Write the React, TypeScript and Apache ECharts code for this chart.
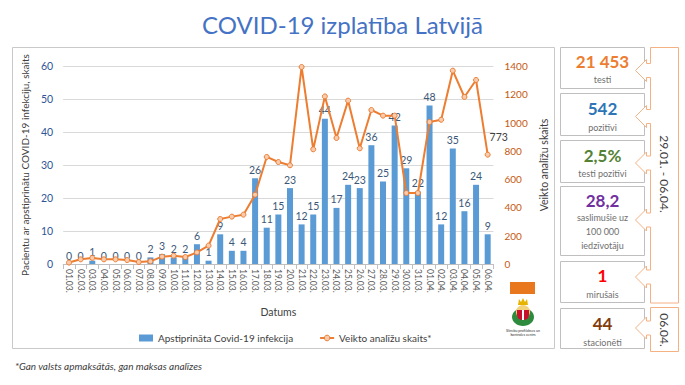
import React, { useEffect, useRef } from 'react';
import * as echarts from 'echarts';

const dates = [
  '01.03.', '02.03.', '03.03.', '04.03.', '05.03.', '06.03.', '07.03.', '08.03.', '09.03.', '10.03.',
  '11.03.', '12.03.', '13.03.', '14.03.', '15.03.', '16.03.', '17.03.', '18.03.', '19.03.', '20.03.',
  '21.03.', '22.03.', '23.03.', '24.03.', '25.03.', '26.03.', '27.03.', '28.03.', '29.03.', '30.03.',
  '31.03.', '01.04.', '02.04.', '03.04.', '04.04.', '05.04.', '06.04.',
];
const confirmed = [0, 0, 1, 0, 0, 0, 0, 2, 3, 2, 2, 6, 1, 9, 4, 4, 26, 11, 15, 23, 12, 15, 44, 17, 24, 23, 36, 25, 42, 29, 22, 48, 12, 35, 16, 24, 9];
const tests = [10, 33, 43, 33, 33, 28, 14, 19, 52, 59, 49, 82, 130, 318, 335, 349, 490, 757, 721, 698, 1393, 811, 1185, 891, 1155, 818, 1089, 1049, 1049, 502, 502, 1004, 1020, 1367, 1181, 1301, 773];
const leftAxisMax = 60;
const leftAxisStep = 10;
const rightAxisMax = 1400;
const rightAxisStep = 200;

const titleText = 'COVID-19 izplatība Latvijā';
const barName = 'Apstiprināta Covid-19 infekcija';
const lineName = 'Veikto analīžu skaits*';
const leftAxisName = 'Pacientu ar apstiprinātu COVID-19 infekciju, skaits';
const rightAxisName = 'Veikto analīžu skaits';
const xAxisName = 'Datums';
const footnote = '*Gan valsts apmaksātās, gan maksas analīzes';

const panelValues = ['21 453', '542', '2,5%', '28,2', '1', '44'];
const panelLabels = [['testi'], ['pozitīvi'], ['testi pozitīvi'], ['saslimušie uz', '100 000', 'iedzīvotāju'], ['mirušais'], ['stacionēti']];
const periodLabel = '29.01. - 06.04.';
const dayLabel = '06.04.';
const logoText = ['Slimību profilakses un', 'kontroles centrs'];

const FONT = 'Lato, "Noto Sans", sans-serif';
const panelColors = ['#ED7D31', '#2E75B6', '#548235', '#7030A0', '#FF0000', '#843C0C'];

function buildGraphics() {
  const g: any[] = [];
  g.push({ type: 'rect', shape: { x: 12.5, y: 47.5, width: 542, height: 301 }, style: { fill: 'none', stroke: '#C9C9C9', lineWidth: 1 }, z: -10 });
  g.push({ type: 'text', x: 342.5, y: 24, style: { text: titleText, fill: '#4472C4', font: `24px ${FONT}`, textAlign: 'center', textVerticalAlign: 'middle' } });
  g.push({ type: 'text', x: 15, y: 366, style: { text: footnote, fill: '#404040', font: `italic 10px ${FONT}`, textAlign: 'left', textVerticalAlign: 'middle' } });

  const tops = [47, 93, 140, 186, 261, 308];
  const bottoms = [88, 135, 182, 255, 302, 348];
  const valueY = [61, 108, 155, 200, 275, 323];
  const labelY = [[79], [127], [173], [217, 231, 245], [294], [342]];
  for (let i = 0; i < tops.length; i++) {
    g.push({ type: 'rect', shape: { x: 560.5, y: tops[i] + 0.5, width: 84, height: bottoms[i] - tops[i] }, style: { fill: '#fff', stroke: '#BFBFBF', lineWidth: 1 } });
    g.push({ type: 'text', x: 602.5, y: valueY[i], style: { text: panelValues[i], fill: panelColors[i], font: `bold 17px ${FONT}`, textAlign: 'center', textVerticalAlign: 'middle' } });
    panelLabels[i].forEach((t, j) => {
      g.push({ type: 'text', x: 602.5, y: labelY[i][j], style: { text: t, fill: '#6F6F6F', font: `9px ${FONT}`, textAlign: 'center', textVerticalAlign: 'middle' } });
    });
  }

  const L = 650.5, R = 678.5;
  const makeCallout = (top: number, bottom: number, arrows: number[]) => {
    const pts: number[][] = [[L, top], [R, top], [R, bottom], [L, bottom]];
    const sorted = [...arrows].sort((a, b) => b - a);
    sorted.forEach((cy) => {
      pts.push([L, cy + 7], [L - 4, cy + 7], [L - 4, cy + 11], [L - 15, cy], [L - 4, cy - 11], [L - 4, cy - 7], [L, cy - 7]);
    });
    return { type: 'polygon', shape: { points: pts }, style: { fill: '#fff', stroke: '#F4B183', lineWidth: 1 } };
  };
  g.push(makeCallout(47.5, 303, [70.5, 116.5, 163, 220, 277]));
  g.push(makeCallout(307.5, 351.5, [328]));
  g.push({ type: 'text', x: 664.5, y: 174, rotation: -Math.PI / 2, style: { text: periodLabel, fill: '#404040', font: `12px ${FONT}`, textAlign: 'center', textVerticalAlign: 'middle' } });
  g.push({ type: 'text', x: 664.5, y: 330, rotation: -Math.PI / 2, style: { text: dayLabel, fill: '#404040', font: `12px ${FONT}`, textAlign: 'center', textVerticalAlign: 'middle' } });

  g.push({ type: 'rect', shape: { x: 510, y: 282, width: 25, height: 12 }, style: { fill: '#E8771E' } });
  g.push({ type: 'ellipse', shape: { cx: 523, cy: 317, rx: 11, ry: 9 }, style: { fill: '#2E8B3E' } });
  g.push({ type: 'circle', shape: { cx: 523, cy: 312, r: 7 }, style: { fill: '#F2D27A' } });
  g.push({ type: 'rect', shape: { x: 517, y: 310, width: 12, height: 10, r: [0, 0, 5, 5] }, style: { fill: '#C8102E' } });
  g.push({ type: 'rect', shape: { x: 522, y: 310, width: 2, height: 10 }, style: { fill: '#ffffff' } });
  g.push({ type: 'polygon', shape: { points: [[518, 305], [519, 299], [521, 302], [523, 298], [525, 302], [527, 299], [528, 305]] }, style: { fill: '#E6B400' } });
  logoText.forEach((t, j) => {
    g.push({ type: 'text', x: 523, y: 330 + j * 4.5, style: { text: t, fill: '#333', font: `3.6px ${FONT}`, textAlign: 'center', textVerticalAlign: 'middle' } });
  });
  return g;
}

export default function App() {
  const ref = useRef<HTMLDivElement>(null);
  useEffect(() => {
    if (!ref.current) return;
    const chart = echarts.init(ref.current, undefined, { renderer: 'svg' });
    const last = tests.length - 1;
    chart.setOption({
      animation: false,
      backgroundColor: '#ffffff',
      textStyle: { fontFamily: FONT },
      grid: { left: 63.2, right: 191.5, top: 66, bottom: 121, containLabel: false, outerBoundsMode: 'none' },
      legend: {
        left: 134,
        top: 328,
        itemWidth: 14,
        itemHeight: 7,
        itemGap: 26,
        textStyle: { color: '#404040', fontSize: 10, fontFamily: FONT },
        data: [
          { name: barName, icon: 'rect' },
          { name: lineName, itemStyle: { borderWidth: 1 } },
        ],
      },
      xAxis: {
        type: 'category',
        data: dates,
        name: xAxisName,
        nameLocation: 'middle',
        nameGap: 42,
        nameTextStyle: { color: '#404040', fontSize: 10.5, fontFamily: FONT },
        axisLine: { lineStyle: { color: '#BFBFBF' } },
        axisTick: { show: true, length: 5, lineStyle: { color: '#BFBFBF' } },
        axisLabel: { rotate: -90, interval: 0, color: '#595959', fontSize: 8.5, margin: 5, fontFamily: FONT },
      },
      yAxis: [
        {
          type: 'value',
          min: 0,
          max: leftAxisMax,
          interval: leftAxisStep,
          name: leftAxisName,
          nameLocation: 'middle',
          nameGap: 30,
          nameTextStyle: { color: '#404040', fontSize: 10, fontFamily: FONT },
          axisLine: { show: false },
          axisTick: { show: false },
          axisLabel: { color: '#2F5597', fontSize: 10.5, margin: 10, fontFamily: FONT },
          splitLine: { lineStyle: { color: '#D9D9D9' } },
        },
        {
          type: 'value',
          min: 0,
          max: rightAxisMax,
          interval: rightAxisStep,
          name: rightAxisName,
          nameLocation: 'middle',
          nameGap: 38,
          nameTextStyle: { color: '#404040', fontSize: 10.5, fontFamily: FONT },
          axisLine: { show: false },
          axisTick: { show: false },
          axisLabel: { color: '#C55A11', fontSize: 10, margin: 11, fontFamily: FONT, formatter: (v: number) => String(v) },
          splitLine: { show: false },
        },
      ],
      series: [
        {
          name: barName,
          type: 'bar',
          data: confirmed,
          barWidth: 6,
          itemStyle: { color: '#5B9BD5' },
          label: { show: true, position: 'top', distance: 3, color: '#3B5878', fontSize: 10.5, fontFamily: FONT },
          z: 2,
        },
        {
          name: lineName,
          type: 'line',
          yAxisIndex: 1,
          data: tests.map((v, i) =>
            i === last
              ? { value: v, label: { show: true, position: 'top', offset: [11, -4], color: '#404040', fontSize: 10.5, fontFamily: FONT } }
              : v
          ),
          symbol: 'circle',
          symbolSize: 5,
          lineStyle: { color: '#ED7D31', width: 2 },
          itemStyle: { color: '#F8CBAD', borderColor: '#ED7D31', borderWidth: 1 },
          z: 3,
        },
      ],
      graphic: buildGraphics(),
    });
    return () => chart.dispose();
  }, []);
  return <div ref={ref} style={{ position: 'absolute', left: 0, top: 0, width: 685, height: 385, background: '#fff' }} />;
}
